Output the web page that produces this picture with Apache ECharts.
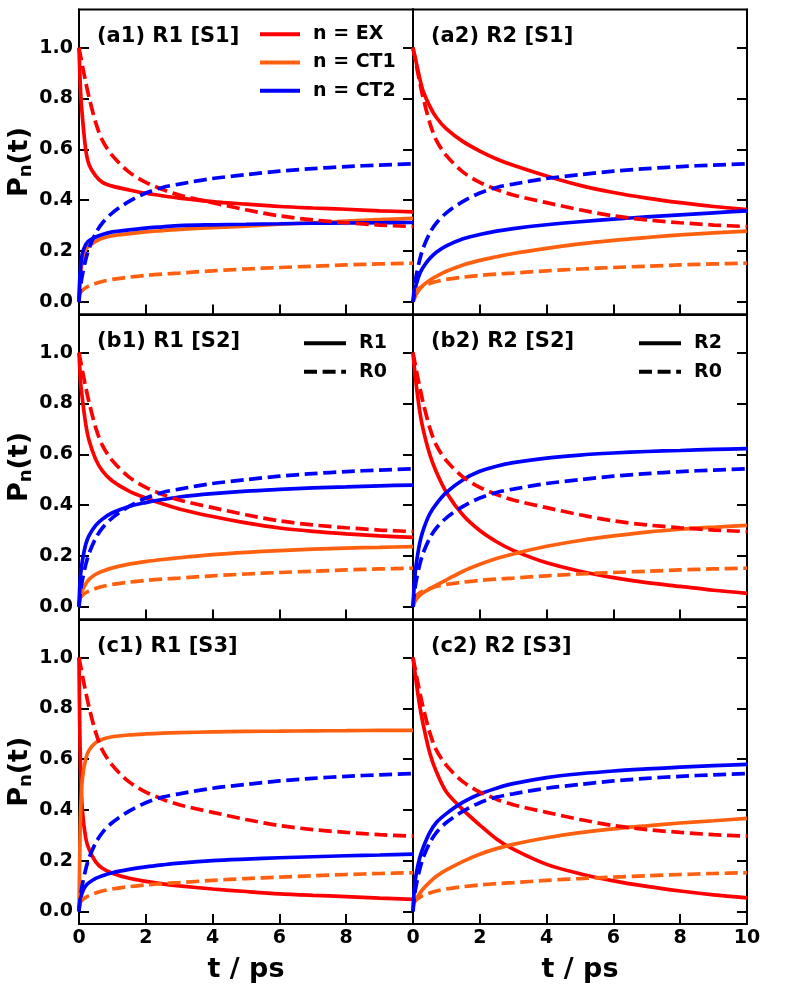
<!DOCTYPE html>
<html>
<head>
<meta charset="utf-8">
<script src="https://cdn.jsdelivr.net/npm/echarts@6/dist/echarts.min.js"></script>
<style>
  html, body { margin: 0; padding: 0; background: #fff; }
  #chart { width: 787px; height: 984px; }
</style>
</head>
<body>
<div id="chart"></div>
<script>
// time grid (ps)
const time = [0, 0.02, 0.05, 0.1, 0.2, 0.3, 0.5, 0.7, 1, 1.5, 2, 2.5, 3, 4, 5, 6, 7, 8, 9, 10];

// R0 reference (dashed, same in every panel)
const r0Ex  = [1.0, 0.985, 0.965, 0.93, 0.865, 0.805, 0.705, 0.635, 0.575, 0.51, 0.47, 0.442, 0.42, 0.39, 0.362, 0.338, 0.322, 0.311, 0.302, 0.296];
const r0Ct1 = [0.03, 0.033, 0.038, 0.045, 0.055, 0.062, 0.072, 0.08, 0.088, 0.097, 0.104, 0.109, 0.113, 0.122, 0.129, 0.135, 0.14, 0.145, 0.149, 0.152];
const r0Ct2 = [0, 0.03, 0.065, 0.105, 0.165, 0.21, 0.27, 0.31, 0.35, 0.395, 0.428, 0.45, 0.463, 0.485, 0.5, 0.514, 0.524, 0.532, 0.538, 0.543];

// (a1) R1 [S1]
const a1Ex  = [1.0, 0.92, 0.82, 0.73, 0.6, 0.54, 0.495, 0.47, 0.455, 0.44, 0.427, 0.417, 0.408, 0.394, 0.384, 0.375, 0.369, 0.364, 0.358, 0.354];
const a1Ct1 = [0, 0.06, 0.1, 0.16, 0.205, 0.22, 0.238, 0.25, 0.26, 0.268, 0.275, 0.28, 0.285, 0.292, 0.298, 0.305, 0.311, 0.317, 0.323, 0.328];
const a1Ct2 = [0, 0.08, 0.14, 0.19, 0.225, 0.24, 0.255, 0.265, 0.275, 0.283, 0.29, 0.295, 0.3, 0.303, 0.305, 0.307, 0.309, 0.31, 0.311, 0.312];
// (a2) R2 [S1]
const a2Ex  = [1.0, 0.985, 0.97, 0.94, 0.88, 0.83, 0.77, 0.725, 0.68, 0.63, 0.593, 0.562, 0.537, 0.495, 0.458, 0.43, 0.408, 0.39, 0.375, 0.363];
const a2Ct1 = [0, 0.006, 0.015, 0.03, 0.05, 0.065, 0.085, 0.1, 0.12, 0.145, 0.163, 0.177, 0.19, 0.21, 0.228, 0.242, 0.253, 0.263, 0.271, 0.278];
const a2Ct2 = [0, 0.015, 0.04, 0.07, 0.11, 0.135, 0.17, 0.195, 0.22, 0.248, 0.265, 0.278, 0.288, 0.303, 0.315, 0.325, 0.334, 0.342, 0.35, 0.358];
// (b1) R1 [S2]
const b1Ex  = [1.0, 0.95, 0.88, 0.82, 0.72, 0.655, 0.58, 0.535, 0.495, 0.455, 0.428, 0.405, 0.385, 0.355, 0.33, 0.31, 0.297, 0.287, 0.279, 0.273];
const b1Ct1 = [0, 0.025, 0.045, 0.065, 0.09, 0.108, 0.128, 0.14, 0.153, 0.168, 0.178, 0.186, 0.193, 0.205, 0.214, 0.221, 0.227, 0.231, 0.234, 0.237];
const b1Ct2 = [0, 0.07, 0.13, 0.18, 0.245, 0.28, 0.32, 0.345, 0.37, 0.395, 0.41, 0.422, 0.432, 0.445, 0.455, 0.462, 0.468, 0.472, 0.476, 0.479];
// (b2) R2 [S2]
const b2Ex  = [1.0, 0.97, 0.93, 0.87, 0.77, 0.7, 0.6, 0.53, 0.45, 0.36, 0.3, 0.256, 0.222, 0.173, 0.14, 0.115, 0.095, 0.08, 0.065, 0.053];
const b2Ct1 = [0, 0.008, 0.018, 0.03, 0.045, 0.055, 0.07, 0.085, 0.106, 0.14, 0.167, 0.19, 0.208, 0.238, 0.261, 0.279, 0.294, 0.305, 0.313, 0.32];
const b2Ct2 = [0, 0.05, 0.11, 0.17, 0.25, 0.3, 0.365, 0.405, 0.45, 0.5, 0.533, 0.553, 0.567, 0.585, 0.597, 0.605, 0.611, 0.615, 0.619, 0.622];
// (c1) R1 [S3]
const c1Ex  = [1.0, 0.75, 0.55, 0.4, 0.29, 0.245, 0.195, 0.17, 0.15, 0.13, 0.118, 0.108, 0.1, 0.088, 0.078, 0.069, 0.063, 0.058, 0.052, 0.047];
const c1Ct1 = [0, 0.2, 0.4, 0.52, 0.6, 0.635, 0.665, 0.678, 0.688, 0.695, 0.699, 0.702, 0.704, 0.707, 0.709, 0.71, 0.711, 0.712, 0.713, 0.713];
const c1Ct2 = [0, 0.03, 0.05, 0.075, 0.1, 0.113, 0.13, 0.14, 0.152, 0.165, 0.175, 0.183, 0.19, 0.2, 0.206, 0.211, 0.215, 0.219, 0.222, 0.225];
// (c2) R2 [S3]
const c2Ex  = [1.0, 0.98, 0.95, 0.9, 0.81, 0.74, 0.625, 0.55, 0.47, 0.4, 0.34, 0.285, 0.245, 0.185, 0.148, 0.12, 0.098, 0.08, 0.065, 0.053];
const c2Ct1 = [0.03, 0.033, 0.04, 0.05, 0.07, 0.088, 0.115, 0.138, 0.163, 0.197, 0.225, 0.247, 0.264, 0.29, 0.31, 0.325, 0.337, 0.348, 0.357, 0.366];
const c2Ct2 = [0, 0.05, 0.1, 0.15, 0.21, 0.25, 0.31, 0.35, 0.385, 0.43, 0.462, 0.485, 0.503, 0.527, 0.542, 0.553, 0.561, 0.568, 0.574, 0.579];

const yTicks = [0, 0.2, 0.4, 0.6, 0.8, 1.0];
const titles = ['(a1) R1 [S1]', '(a2) R2 [S1]', '(b1) R1 [S2]', '(b2) R2 [S2]', '(c1) R1 [S3]', '(c2) R2 [S3]'];
const panels = [
  [a1Ex, a1Ct1, a1Ct2], [a2Ex, a2Ct1, a2Ct2],
  [b1Ex, b1Ct1, b1Ct2], [b2Ex, b2Ct1, b2Ct2],
  [c1Ex, c1Ct1, c1Ct2], [c2Ex, c2Ct1, c2Ct2],
];
const r0 = [r0Ex, r0Ct1, r0Ct2];
const stateNames = ['n = EX', 'n = CT1', 'n = CT2'];
const colors = ['#ff0000', '#ff6010', '#0000ff'];

const FONT = "'DejaVu Sans', sans-serif";
const cols = [{ left: 79, width: 334 }, { left: 413, width: 334 }];
const rows = [{ top: 9.5, height: 305 }, { top: 314.5, height: 305 }, { top: 619.5, height: 305 }];
const titleCenters = [36.5, 342, 646.5];
const dash = [13, 5.6];
const lw = 3.7;

const grid = [], xAxis = [], yAxis = [], title = [];
const series = [
  // legend-only entries for line style keys
  { name: 'R1', type: 'line', data: [], symbol: 'none', color: '#000', lineStyle: { width: lw, type: 'solid' } },
  { name: 'R2', type: 'line', data: [], symbol: 'none', color: '#000', lineStyle: { width: lw, type: 'solid' } },
  { name: 'R0', type: 'line', data: [], symbol: 'none', color: '#000', lineStyle: { width: lw, type: dash } },
];
const tickStyle = { color: '#000', width: 2 };
const lineOf = (arr) => time.map((t, k) => [t, arr[k]]);

panels.forEach((p, i) => {
  const r = Math.floor(i / 2), c = i % 2;
  grid.push({
    left: cols[c].left, width: cols[c].width, top: rows[r].top, height: rows[r].height,
    show: true, borderColor: '#000', borderWidth: 2, backgroundColor: 'transparent'
  });
  xAxis.push({
    gridIndex: i, type: 'value', min: 0, max: 10, interval: 2,
    axisLine: { show: true, onZero: false, lineStyle: tickStyle },
    axisTick: { show: true, inside: true, length: 10, lineStyle: tickStyle },
    axisLabel: {
      show: r === 2, margin: 5, showMaxLabel: c === 1,
      color: '#000', fontSize: 19, fontWeight: 'bold', fontFamily: FONT
    },
    splitLine: { show: false },
    name: r === 2 ? 't / ps' : '', nameLocation: 'middle', nameGap: 32,
    nameTextStyle: { color: '#000', fontSize: 27, fontWeight: 'bold', fontFamily: FONT }
  });
  yAxis.push({
    gridIndex: i, type: 'value', min: -0.05, max: 1.15, position: 'left',
    axisLine: { show: true, onZero: false, lineStyle: tickStyle },
    axisTick: { show: c === 0, inside: true, length: 10, lineStyle: tickStyle, customValues: yTicks },
    axisLabel: {
      show: c === 0, margin: 6, customValues: yTicks, formatter: v => v.toFixed(1),
      color: '#000', fontSize: 19, fontWeight: 'bold', fontFamily: FONT
    },
    splitLine: { show: false },
    name: c === 0 ? '{a|P}{s|n}{a|(t)}' : '', nameLocation: 'middle', nameRotate: 90, nameGap: 44,
    nameTextStyle: {
      rich: {
        a: { fontSize: 27, fontWeight: 'bold', fontFamily: FONT, color: '#000', lineHeight: 30 },
        s: { fontSize: 18, fontWeight: 'bold', fontFamily: FONT, color: '#000', lineHeight: 17, verticalAlign: 'bottom' }
      }
    }
  });
  yAxis.push({
    gridIndex: i, type: 'value', min: -0.05, max: 1.15, position: 'right',
    axisLine: { show: true, onZero: false, lineStyle: tickStyle },
    axisTick: { show: true, inside: true, length: 10, lineStyle: tickStyle, customValues: yTicks },
    axisLabel: { show: false },
    splitLine: { show: false }
  });
  title.push({
    text: titles[i], left: c === 0 ? 97 : 431, top: titleCenters[r] - 10.5, padding: 0,
    textStyle: { color: '#000', fontSize: 21, fontWeight: 'bold', fontFamily: FONT, lineHeight: 21 }
  });
  p.forEach((arr, k) => {
    series.push({
      name: stateNames[k], type: 'line', xAxisIndex: i, yAxisIndex: 2 * i,
      data: lineOf(arr), symbol: 'none', smooth: 0.3,
      color: colors[k], lineStyle: { width: lw, type: 'solid' }
    });
  });
  r0.forEach((arr, k) => {
    series.push({
      name: 'R0 ' + stateNames[k], type: 'line', xAxisIndex: i, yAxisIndex: 2 * i,
      data: lineOf(arr), symbol: 'none', smooth: 0.3,
      color: colors[k], lineStyle: { width: lw, type: dash }
    });
  });
});

const legendText = { color: '#000', fontSize: 19, fontWeight: 'bold', fontFamily: FONT, lineHeight: 20, padding: [0, 0, 0, 8] };
const legendBase = {
  orient: 'vertical', padding: 0, itemHeight: 14, selectedMode: false,
  itemStyle: { opacity: 0 }, lineStyle: { width: 4 }, textStyle: legendText
};

const chart = echarts.init(document.getElementById('chart'));
chart.setOption({
  animation: false,
  backgroundColor: '#fff',
  title: title,
  legend: [
    Object.assign({}, legendBase, { data: stateNames, left: 258, top: 24.3, itemWidth: 40, itemGap: 8.2 }),
    Object.assign({}, legendBase, { data: ['R1', 'R0'], left: 302, top: 333.3, itemWidth: 42, itemGap: 8.4 }),
    Object.assign({}, legendBase, { data: ['R2', 'R0'], left: 637, top: 333.3, itemWidth: 42, itemGap: 8.4 })
  ],
  grid: grid,
  xAxis: xAxis,
  yAxis: yAxis,
  series: series
});
</script>
</body>
</html>
